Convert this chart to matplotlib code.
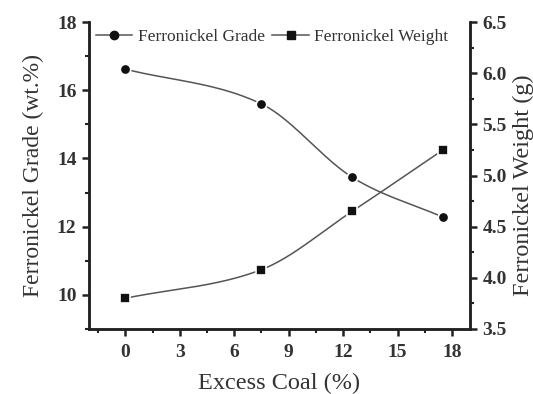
import matplotlib
matplotlib.use("Agg")
import matplotlib.pyplot as plt
import numpy as np
from matplotlib.ticker import MultipleLocator

coal = [0, 7.5, 12.5, 17.5]
grade = [16.62, 15.6, 13.45, 12.28]
weight = [3.80, 4.08, 4.65, 5.25]

plt.rcParams['font.family'] = ['Liberation Serif', 'DejaVu Serif']
txt = '#333333'
line_c = '#555555'


# smooth curve through the points (cubic hermite, Catmull-Rom style slopes)
def smooth(x, y, n=60):
    x = np.asarray(x, float)
    y = np.asarray(y, float)
    m = np.zeros_like(y)
    d = np.diff(y) / np.diff(x)
    m[0] = d[0]
    m[-1] = d[-1]
    for i in range(1, len(x) - 1):
        m[i] = (y[i + 1] - y[i - 1]) / (x[i + 1] - x[i - 1])
    xs, ys = [], []
    for i in range(len(x) - 1):
        h = x[i + 1] - x[i]
        t = np.linspace(0, 1, n)
        h00 = 2*t**3 - 3*t**2 + 1
        h10 = t**3 - 2*t**2 + t
        h01 = -2*t**3 + 3*t**2
        h11 = t**3 - t**2
        xs.append(x[i] + t*h)
        ys.append(h00*y[i] + h10*h*m[i] + h01*y[i+1] + h11*h*m[i+1])
    return np.concatenate(xs), np.concatenate(ys)


fig = plt.figure(figsize=(5.33, 3.94), dpi=100)
ax = fig.add_axes([0.167, 0.165, 0.715, 0.779])
ax2 = ax.twinx()

sx, sy = smooth(coal, grade)
ax.plot(sx, sy, color=line_c, lw=1.1)
ax.plot(coal, grade, 'o', color='#111111', ms=7.5, mec='white', mew=1.2)
wx, wy = smooth(coal, weight)
ax2.plot(wx, wy, color=line_c, lw=1.1)
ax2.plot(coal, weight, 's', color='#111111', ms=7, mec='white', mew=1.2)

ax.set_xlim(-2, 19)
ax.set_ylim(9, 18)
ax2.set_ylim(3.5, 6.5)
ax.xaxis.set_major_locator(MultipleLocator(3))
ax.xaxis.set_minor_locator(MultipleLocator(1.5))
ax.yaxis.set_major_locator(MultipleLocator(2))
ax.yaxis.set_minor_locator(MultipleLocator(1))
ax2.yaxis.set_minor_locator(MultipleLocator(0.25))

for a in (ax, ax2):
    a.spines['top'].set_visible(False)
    for s in a.spines.values():
        s.set_linewidth(1.8)
        s.set_color('#222222')
    a.tick_params(which='major', direction='out', length=5, width=1.8, colors='#222222',
                  labelsize=14, labelcolor=txt, pad=4)
    a.tick_params(which='minor', direction='out', length=3, width=1.5, colors='#222222')
ax.tick_params(axis='x', pad=6)
ax.tick_params(axis='y', which='both', right=False)
ax2.tick_params(axis='y', which='both', left=False)
for lab in ax.get_xticklabels() + ax.get_yticklabels():
    lab.set_fontweight('bold')
r_ticks = np.arange(3.5, 6.51, 0.5)
ax2.set_yticks(r_ticks)
ax2.set_yticklabels([f'{v:.1f}' for v in r_ticks], fontweight='bold')

ax.set_xlabel('Excess Coal (%)', fontsize=17.5, color=txt, labelpad=8)
ax.set_ylabel('Ferronickel Grade (wt.%)', fontsize=17, color=txt, labelpad=9)
ax2.set_ylabel('Ferronickel Weight (g)', fontsize=17.5, color=txt, labelpad=4)
ax2.yaxis.label.set_y(0.47)

h1 = plt.Line2D([], [], color=line_c, lw=1.1, marker='o', mfc='#111111', mec='#111111', ms=6)
h2 = plt.Line2D([], [], color=line_c, lw=1.1, marker='s', mfc='#111111', mec='#111111', ms=5.5)
leg = ax.legend([h1, h2], ['Ferronickel Grade', 'Ferronickel Weight'], ncol=2, frameon=False,
                loc='upper left', bbox_to_anchor=(0.0, 1.0), fontsize=12.5, handlelength=2.1,
                handletextpad=0.3, columnspacing=0.45, borderaxespad=0)
for t in leg.get_texts():
    t.set_color(txt)

fig.savefig('out.png', dpi=100)
